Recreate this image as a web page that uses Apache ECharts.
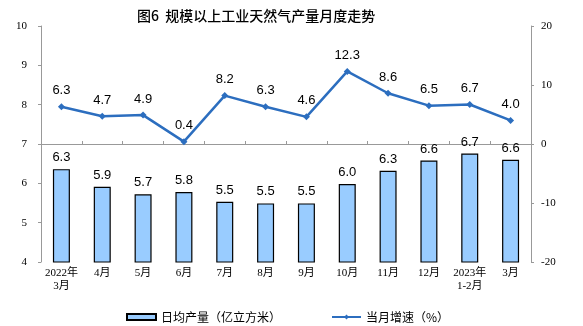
<!DOCTYPE html>
<html><head><meta charset="utf-8">
<script src="https://cdn.jsdelivr.net/npm/echarts@6/dist/echarts.min.js"></script>
<style>html,body{margin:0;padding:0;background:#fff}#c{width:583px;height:326px}</style>
</head><body><div id="c"></div>
<script>
const categories = ['2022年\n3月','4月','5月','6月','7月','8月','9月','10月','11月','12月','2023年\n1-2月','3月'];
const dailyOutput = [6.36, 5.91, 5.72, 5.78, 5.53, 5.49, 5.49, 5.98, 6.32, 6.58, 6.76, 6.6];
const dailyOutputLabels = ['6.3','5.9','5.7','5.8','5.5','5.5','5.5','6.0','6.3','6.6','6.7','6.6'];
const growth = [6.3, 4.7, 4.9, 0.4, 8.2, 6.3, 4.6, 12.3, 8.6, 6.5, 6.7, 4.0];
const leftTicks = [4, 10, 1];
const rightTicks = [-20, 20, 10];

const serif = '"Liberation Serif","Noto Sans CJK SC",serif';
const chart = echarts.init(document.getElementById('c'));
chart.setOption({
  animation: false,
  title: {
    text: '图6  规模以上工业天然气产量月度走势',
    left: 132, top: 4,
    textStyle: {fontFamily: '"Noto Sans CJK SC",sans-serif', fontSize: 14, fontWeight: 500, color: '#000'}
  },
  legend: {
    left: 121, top: 306, itemWidth: 29, itemHeight: 6, itemGap: 50,
    textStyle: {fontFamily: '"Noto Sans CJK SC",sans-serif', fontSize: 12, color: '#000'},
    data: [
      {name: '日均产量（亿立方米）', icon: 'rect'},
      {name: '当月增速（%）'}
    ]
  },
  grid: {left: 41, right: 52, top: 26, bottom: 64},
  xAxis: {
    type: 'category', data: categories,
    axisLine: {lineStyle: {color: '#999'}},
    axisTick: {show: true, inside: true, length: 3, lineStyle: {color: '#999'}},
    axisLabel: {fontFamily: serif, fontSize: 11, color: '#000', margin: 5, lineHeight: 13, interval: 0}
  },
  yAxis: [
    {
      type: 'value', min: leftTicks[0], max: leftTicks[1], interval: leftTicks[2],
      splitLine: {show: false},
      axisLine: {show: true, lineStyle: {color: '#999'}},
      axisTick: {show: true, length: 3, lineStyle: {color: '#999'}},
      axisLabel: {fontFamily: serif, fontSize: 11, color: '#000', margin: 14}
    },
    {
      type: 'value', min: rightTicks[0], max: rightTicks[1], interval: rightTicks[2],
      splitLine: {show: false},
      axisLine: {show: true, lineStyle: {color: '#999'}},
      axisTick: {show: true, length: 3, lineStyle: {color: '#999'}},
      axisLabel: {fontFamily: serif, fontSize: 11, color: '#000', margin: 10}
    }
  ],
  series: [
    {
      name: '日均产量（亿立方米）', type: 'bar', yAxisIndex: 0, data: dailyOutput,
      barWidth: 17,
      itemStyle: {color: '#99CCFF', borderColor: '#000', borderWidth: 1.2},
      label: {
        show: true, position: 'top', distance: 5,
        fontFamily: '"Liberation Sans",Arial,sans-serif', fontSize: 13, color: '#000',
        formatter: p => dailyOutputLabels[p.dataIndex]
      }
    },
    {
      name: '当月增速（%）', type: 'line', yAxisIndex: 1, data: growth,
      symbol: 'diamond', symbolSize: 7,
      lineStyle: {color: '#2C6EBF', width: 2.5},
      itemStyle: {color: '#2C6EBF'},
      label: {
        show: true, position: 'top', distance: 6,
        fontFamily: '"Liberation Sans",Arial,sans-serif', fontSize: 13, color: '#000',
        formatter: p => p.value.toFixed(1)
      }
    }
  ]
});
</script></body></html>
